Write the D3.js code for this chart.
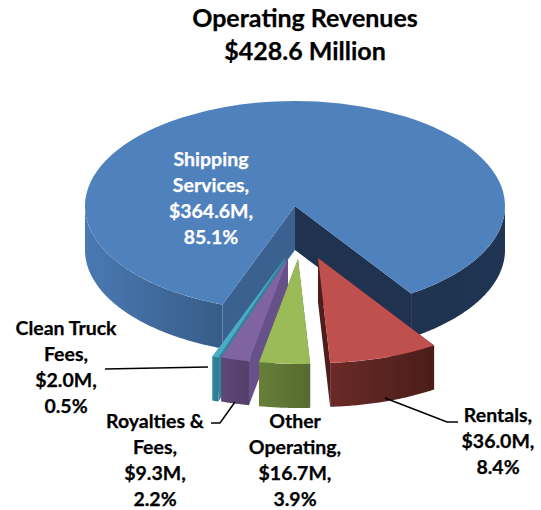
<!DOCTYPE html>
<html>
<head>
<meta charset="utf-8">
<script src="https://cdn.jsdelivr.net/npm/d3@7"></script>
<style>
    html, body { margin: 0; padding: 0; background: #fff; }
    svg { display: block; }
    text { font-family: Lato, Carlito, sans-serif; font-weight: 700; stroke-width: 0.25; }
</style>
</head>
<body>
<svg id="chart" width="541" height="510"></svg>
<script>
const titleLines = ['Operating Revenues', '$428.6 Million'];
const names = ['Shipping Services', 'Rentals', 'Other Operating', 'Royalties & Fees', 'Clean Truck Fees'];
const revenues = [364.6, 36.0, 16.7, 9.3, 2.0];
const labelLines = [
    ['Shipping', 'Services,', '$364.6M,', '85.1%'],
    ['Rentals,', '$36.0M,', '8.4%'],
    ['Other', 'Operating,', '$16.7M,', '3.9%'],
    ['Royalties &', 'Fees,', '$9.3M,', '2.2%'],
    ['Clean Truck', 'Fees,', '$2.0M,', '0.5%']
];

// look of each slice, same order as names
const topColors = ['#4f81bd', '#c0504d', '#9bbb59', '#8064a2', '#4bacc6'];
const wallColors = ['#3a6190', '#4f1e1c', '#566b31', '#67518a', '#31859c'];
const rimFrom = ['#4a79b3', '#6b2a27', '#677f39', '#5f4678', '#33889f'];
const rimTo = ['#375c88', '#4a1d1a', '#566b31', '#52406a', '#2e7a8f'];
const explode = [[0, 0], [23, 52], [3, 53], [-7, 52], [-10, 52]];
const labelX = [211, 498, 295, 155, 66];
const labelY = [166, 422, 428, 428, 335];

const cx = 295, cy = 206, rx = 210, ry = 105, depth = 44;
const rad = d => d * Math.PI / 180;

const svg = d3.select('#chart');
const defs = svg.append('defs');

const start = rad(200.2);
const slices = d3.pie().sort(null).startAngle(start).endAngle(start + 2 * Math.PI)(revenues);

const px = (d, a) => cx + explode[d.index][0] + rx * Math.sin(a);
const py = (d, a) => cy + explode[d.index][1] - ry * Math.cos(a);

const rim = (d) => d3.area()
    .x(a => px(d, a))
    .y0(a => py(d, a))
    .y1(a => py(d, a) + depth);

// only the front half of the rim can be seen
function frontSpans(d) {
    const spans = [];
    for (const [a0, a1] of [[90, 270], [450, 630]]) {
        const from = Math.max(d.startAngle, rad(a0));
        const to = Math.min(d.endAngle, rad(a1));
        if (to > from) spans.push([from, to]);
    }
    return spans;
}

function drawSlice(d) {
    const g = svg.append('g').attr('class', 'slice');
    const ox = cx + explode[d.index][0];
    const oy = cy + explode[d.index][1];

    // cut faces, the ones facing away end up under the top
    const faces = [d.startAngle, d.endAngle];
    faces.forEach((a, i) => {
        let color = wallColors[d.index];
        if (d.index === 0 && i === 1) color = '#1f3350';
        g.append('path')
            .attr('fill', color)
            .attr('d', d3.line()([
                [ox, oy], [px(d, a), py(d, a)],
                [px(d, a), py(d, a) + depth], [ox, oy + depth]
            ]));
    });

    frontSpans(d).forEach((span, i) => {
        const id = `rim${d.index}_${i}`;
        const isDarkSide = d.index === 0 && span[0] > rad(360);
        const gr = defs.append('linearGradient').attr('id', id);
        gr.append('stop').attr('offset', 0).attr('stop-color', isDarkSide ? '#1f3350' : rimFrom[d.index]);
        gr.append('stop').attr('offset', 1).attr('stop-color', isDarkSide ? '#1f3553' : rimTo[d.index]);
        const steps = d3.range(span[0], span[1], 0.01).concat([span[1]]);
        g.append('path')
            .attr('fill', `url(#${id})`)
            .attr('d', rim(d)(steps));
    });

    g.append('path')
        .attr('fill', topColors[d.index])
        .attr('transform', `translate(${ox},${oy}) scale(1,${ry / rx})`)
        .attr('d', d3.arc().innerRadius(0).outerRadius(rx)(d));
}

// back to front: big slice, then the small ones from left to right
[0, 4, 3, 2, 1].forEach(i => drawSlice(slices[i]));

const leaders = [
    [[105, 369], [208, 367]],
    [[211, 423], [220, 423], [235, 402]],
    [[385, 398], [447, 422], [458, 422]]
];
svg.append('g')
    .selectAll('path')
    .data(leaders)
    .join('path')
    .attr('fill', 'none')
    .attr('stroke', '#000')
    .attr('stroke-width', 1.5)
    .attr('d', d3.line());

svg.append('g')
    .selectAll('text')
    .data(titleLines)
    .join('text')
    .attr('x', 305)
    .attr('y', (d, i) => 27 + i * 33)
    .attr('text-anchor', 'middle')
    .attr('font-size', 25)
    .attr('fill', '#000')
    .attr('stroke', '#000')
    .text(d => d);

labelLines.forEach((lines, i) => {
    const color = i === 0 ? '#fff' : '#000';
    svg.append('g')
        .selectAll('text')
        .data(lines)
        .join('text')
        .attr('x', labelX[i])
        .attr('y', (d, j) => labelY[i] + j * 26)
        .attr('text-anchor', 'middle')
        .attr('font-size', 19.5)
        .attr('fill', color)
        .attr('stroke', color)
        .text(d => d);
});
</script>
</body>
</html>
